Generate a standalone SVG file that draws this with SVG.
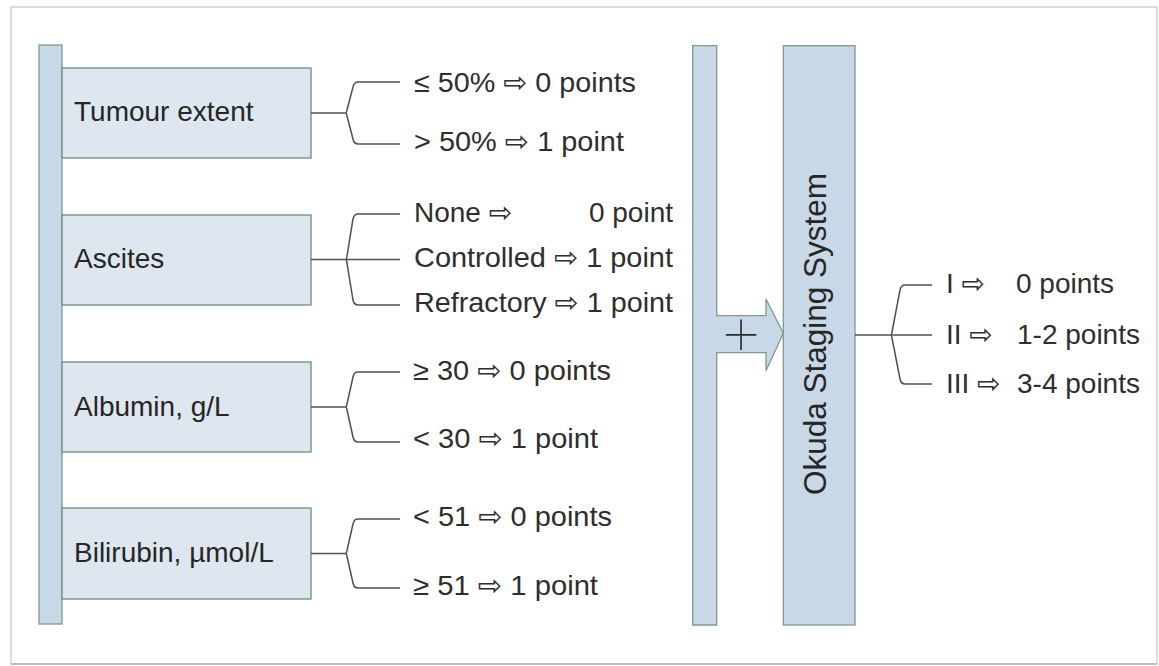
<svg xmlns="http://www.w3.org/2000/svg" width="1159" height="666" viewBox="0 0 1159 666">
  <style>
    .bar { fill: #c9d8e7; stroke: #7e9a8c; stroke-width: 1.3; }
    .box { fill: #dee6ef; stroke: #6f8c7c; stroke-width: 1.3; }
    .lbl { font-family: "Liberation Sans", Arial, "DejaVu Sans", sans-serif; font-size: 28px; fill: #262626; }
    .opt { font-family: "Liberation Sans", Arial, "DejaVu Sans", sans-serif; font-size: 28px; fill: #2e2e2e; }
    .wire { fill: none; stroke: #505050; stroke-width: 1.5; }
  </style>

  <!-- page frame -->
  <rect x="11" y="7" width="1146" height="657" fill="#ffffff" stroke="#d2d2d2" stroke-width="1.5"/>
  <line x1="11" y1="664" x2="1157" y2="664" stroke="#bdbdbd" stroke-width="2"/>

  <!-- left spine -->
  <g id="spine-left">
    <rect class="bar" x="39" y="45" width="23" height="579"/>
  </g>

  <!-- criteria -->
  <g id="tumour">
    <rect class="box" x="62" y="68" width="249" height="90"/>
    <text class="lbl" x="74" y="121">Tumour extent</text>
  </g>
  <g id="ascites">
    <rect class="box" x="62" y="215" width="249" height="90"/>
    <text class="lbl" x="74" y="268">Ascites</text>
  </g>
  <g id="albumin">
    <rect class="box" x="62" y="362" width="249" height="90"/>
    <text class="lbl" x="74" y="416">Albumin, g/L</text>
  </g>
  <g id="bilirubin">
    <rect class="box" x="62" y="508" width="249" height="91"/>
    <text class="lbl" x="74" y="562">Bilirubin, µmol/L</text>
  </g>

  <!-- summing arrow -->
  <g id="sum">
    <path class="bar" d="M692.7,45.7 H716.7 V315.7 H766 V299 L783.3,333.3 L766,370.7 V352.7 H716.7 V625 H692.7 Z"/>
    <text x="741" y="356" text-anchor="middle" font-family="Inter, 'DejaVu Sans', sans-serif" font-weight="100" font-size="74" fill="#2a2a2a">+</text>
  </g>

  <!-- result column -->
  <g id="okuda">
    <rect class="bar" x="783.3" y="45.7" width="71.7" height="579.3"/>
    <text class="lbl" transform="translate(826,334) rotate(-90)" text-anchor="middle" style="font-size:31.5px">Okuda Staging System</text>
  </g>

  <!-- branching connectors -->
  <g id="connectors">
    <!-- tumour -->
    <path class="wire" d="M311,113 H346"/>
    <path class="wire" d="M400,82 H358 Q354,82 353,87 L347,110 Q346.5,113 346,113 Q346.5,113 347,116 L353,139 Q354,144 358,144 H400"/>
    <!-- ascites -->
    <path class="wire" d="M311,259.5 H400"/>
    <path class="wire" d="M400,214 H358 Q354,214 353,219 L347,256 Q346.5,259.5 346,259.5 Q346.5,259.5 347,263 L353,300 Q354,305 358,305 H400"/>
    <!-- albumin -->
    <path class="wire" d="M311,407 H346"/>
    <path class="wire" d="M400,372 H358 Q354,372 353,377 L347,404 Q346.5,407 346,407 Q346.5,407 347,410 L353,437 Q354,442 358,442 H400"/>
    <!-- bilirubin -->
    <path class="wire" d="M311,553.5 H346"/>
    <path class="wire" d="M400,519 H358 Q354,519 353,524 L347,550.5 Q346.5,553.5 346,553.5 Q346.5,553.5 347,556.5 L353,583 Q354,588 358,588 H400"/>
    <!-- stages -->
    <path class="wire" d="M855,335 H932"/>
    <path class="wire" d="M932,285 H905 Q901,285 900,290 L892,332 Q891.5,335 891,335 Q891.5,335 892,338 L900,379 Q901,384 905,384 H932"/>
  </g>

  <!-- scoring options -->
  <g id="options">
    <text class="opt" x="414" y="92" textLength="222" lengthAdjust="spacingAndGlyphs">≤ 50% ⇨ 0 points</text>
    <text class="opt" x="414" y="151" textLength="210" lengthAdjust="spacingAndGlyphs">&gt; 50% ⇨ 1 point</text>
    <text class="opt" x="414" y="222">None ⇨</text>
    <text class="opt" x="673" y="222" text-anchor="end">0 point</text>
    <text class="opt" x="414" y="267" textLength="259" lengthAdjust="spacingAndGlyphs">Controlled ⇨ 1 point</text>
    <text class="opt" x="414" y="312" textLength="259" lengthAdjust="spacingAndGlyphs">Refractory ⇨ 1 point</text>
    <text class="opt" x="413" y="380" textLength="198" lengthAdjust="spacingAndGlyphs">≥ 30 ⇨ 0 points</text>
    <text class="opt" x="413" y="448" textLength="185" lengthAdjust="spacingAndGlyphs">&lt; 30 ⇨ 1 point</text>
    <text class="opt" x="413" y="526" textLength="199" lengthAdjust="spacingAndGlyphs">&lt; 51 ⇨ 0 points</text>
    <text class="opt" x="413" y="595" textLength="185" lengthAdjust="spacingAndGlyphs">≥ 51 ⇨ 1 point</text>
  </g>

  <!-- stages -->
  <g id="stages">
    <text class="opt" x="946" y="293">I ⇨</text>
    <text class="opt" x="1016" y="293">0 points</text>
    <text class="opt" x="946" y="344">II ⇨</text>
    <text class="opt" x="1017" y="344">1-2 points</text>
    <text class="opt" x="946" y="393">III ⇨</text>
    <text class="opt" x="1017" y="393">3-4 points</text>
  </g>
</svg>
